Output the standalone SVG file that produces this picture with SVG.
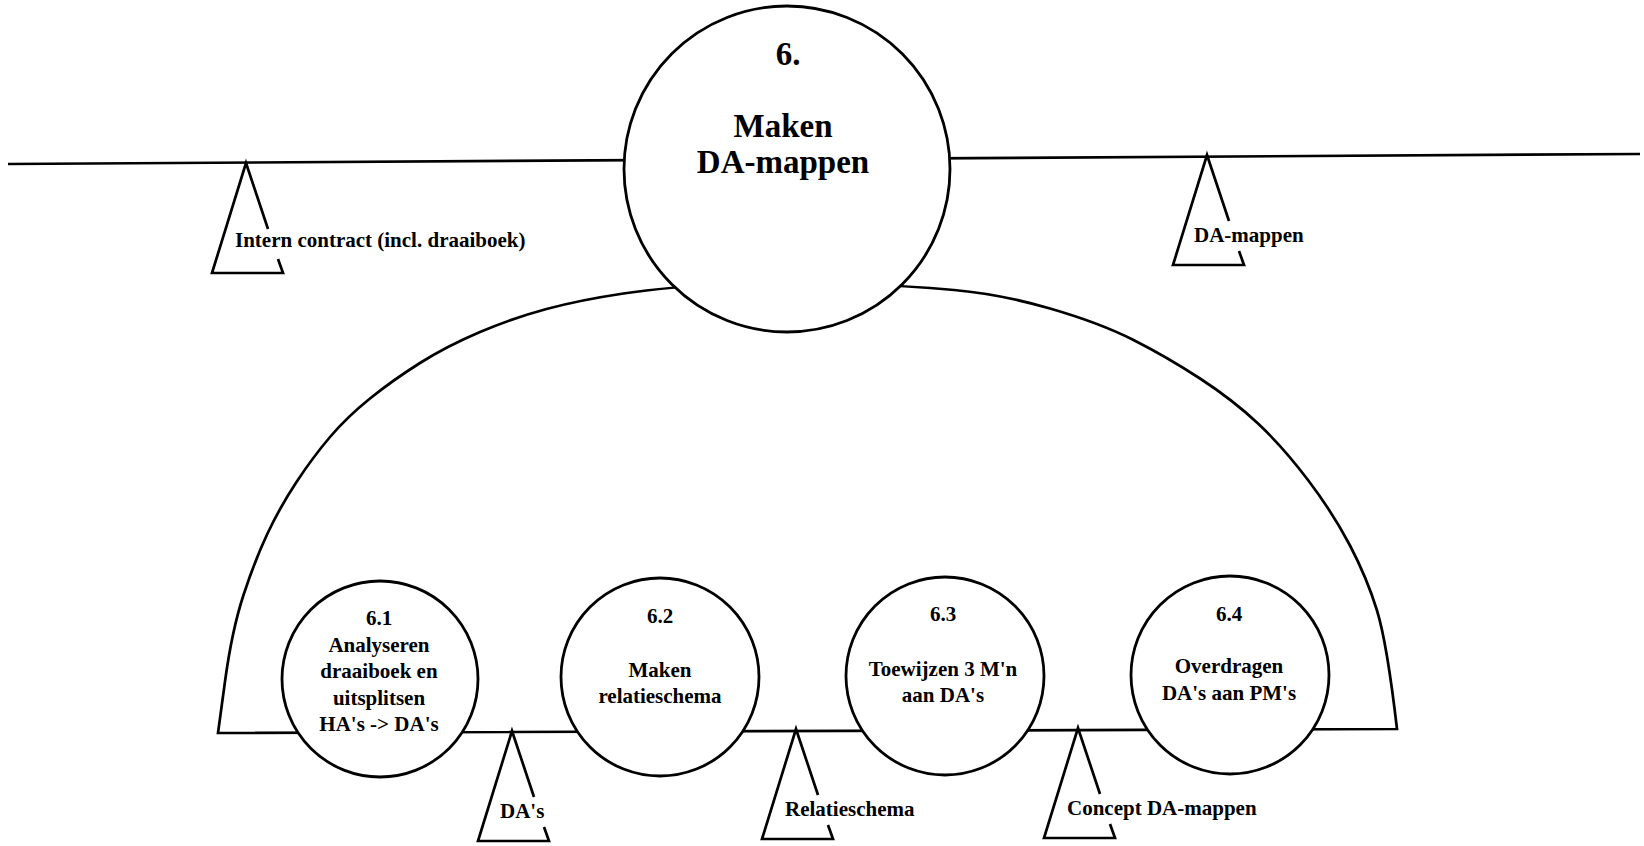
<svg xmlns="http://www.w3.org/2000/svg" width="1644" height="846" viewBox="0 0 1644 846">
  <style>
    .ln { fill: none; stroke: #000; stroke-width: 2.7; stroke-linejoin: miter; stroke-linecap: butt; }
    .bubble { fill: #fff; stroke: #000; stroke-width: 2.8; }
    .t { font-family: "Liberation Serif", "Times New Roman", serif; font-weight: bold; font-size: 21px; fill: #000; }
    .c { text-anchor: middle; }
    .big { font-size: 33px; }
  </style>
  <defs>
    <!-- open data-store triangle, apex at the origin, gap in the right leg for the label -->
    <path id="store" class="ln" d="M22,66 L0,0 L-34,110 L37,110 L32,96"/>
  </defs>

  <rect width="1644" height="846" fill="#fff"/>

  <g id="connectors">
    <!-- main flow line through process 6 -->
    <path class="ln" d="M8,164 L1640,154"/>
    <!-- decomposition boundary: arch plus the flow line of the sub-processes -->
    <path class="ln" d="M218,733 L225,681.5 Q232,630 243.5,595 Q255,560 267.5,533.5 Q280,507 296.5,482 Q313,457 330,437 Q347,417 370,398.5 Q393,380 420,363 Q447,346 480,332 Q513,318 546.5,309 Q580,300 623.5,293.5 Q667,287 728.5,284 Q790,281 849,283.5 Q908,286 954,290 Q1000,294 1050,308.5 Q1100,323 1133.5,340 Q1167,357 1200,378.5 Q1233,400 1258,423.5 Q1283,447 1308,480 Q1333,513 1350,545.5 Q1367,578 1377,610.5 Q1387,643 1397,729 Z"/>
  </g>

  <g id="store-intern-contract">
    <use href="#store" x="246" y="163"/>
    <text class="t" x="235" y="247">Intern contract (incl. draaiboek)</text>
  </g>

  <g id="store-da-mappen">
    <use href="#store" x="1207" y="155"/>
    <text class="t" x="1194" y="242">DA-mappen</text>
  </g>

  <g id="process-6">
    <circle class="bubble" cx="787" cy="169" r="163"/>
    <text class="t big c" x="788" y="65">6.</text>
    <text class="t big c" x="783" y="137">Maken</text>
    <text class="t big c" x="783" y="173">DA-mappen</text>
  </g>

  <g id="process-6-1">
    <circle class="bubble" cx="380" cy="679" r="98"/>
    <text class="t c" x="379" y="625">6.1</text>
    <text class="t c" x="379" y="652">Analyseren</text>
    <text class="t c" x="379" y="678">draaiboek en</text>
    <text class="t c" x="379" y="705">uitsplitsen</text>
    <text class="t c" x="379" y="731">HA's -&gt; DA's</text>
  </g>

  <g id="process-6-2">
    <circle class="bubble" cx="660" cy="677" r="99"/>
    <text class="t c" x="660" y="623">6.2</text>
    <text class="t c" x="660" y="677">Maken</text>
    <text class="t c" x="660" y="703">relatieschema</text>
  </g>

  <g id="process-6-3">
    <circle class="bubble" cx="945" cy="676" r="99"/>
    <text class="t c" x="943" y="621">6.3</text>
    <text class="t c" x="943" y="676">Toewijzen 3 M'n</text>
    <text class="t c" x="943" y="702">aan DA's</text>
  </g>

  <g id="process-6-4">
    <circle class="bubble" cx="1230" cy="675" r="99"/>
    <text class="t c" x="1229" y="621">6.4</text>
    <text class="t c" x="1229" y="673">Overdragen</text>
    <text class="t c" x="1229" y="700">DA's aan PM's</text>
  </g>

  <g id="store-das">
    <use href="#store" x="512" y="731"/>
    <text class="t" x="500" y="818">DA's</text>
  </g>

  <g id="store-relatieschema">
    <use href="#store" x="796" y="729"/>
    <text class="t" x="785" y="816">Relatieschema</text>
  </g>

  <g id="store-concept-da-mappen">
    <use href="#store" x="1078" y="728"/>
    <text class="t" x="1067" y="815">Concept DA-mappen</text>
  </g>
</svg>
